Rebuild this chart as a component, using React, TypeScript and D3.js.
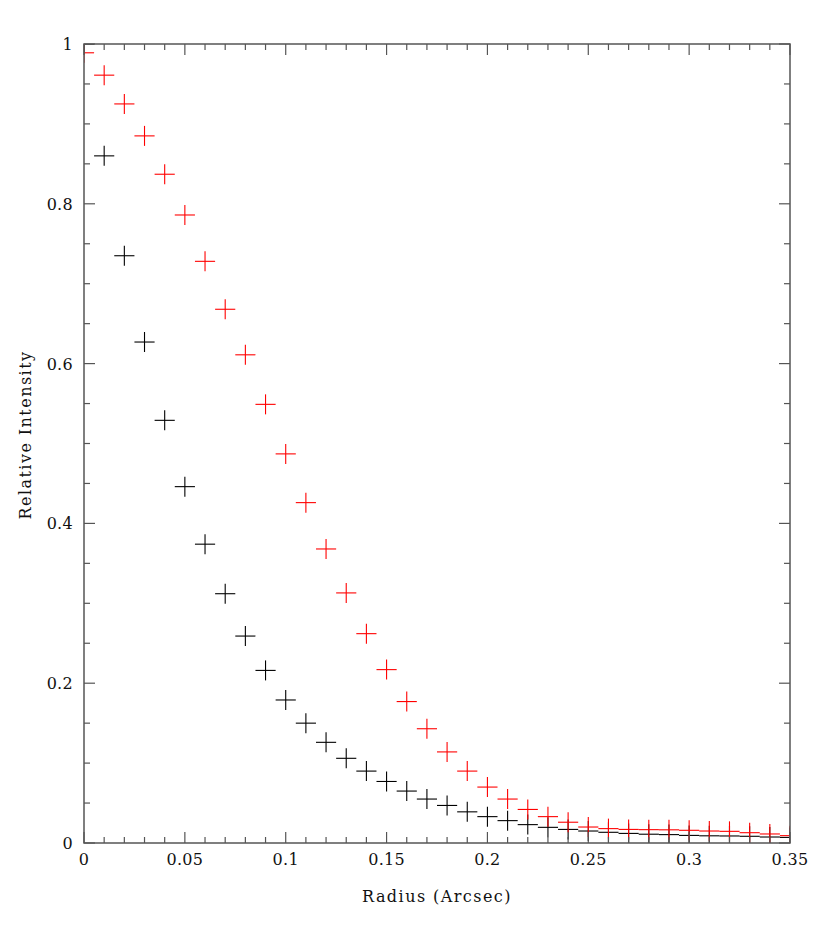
import React from 'react'
import * as d3 from 'd3'

// radius bins (arcsec)
const radius = [0, 0.01, 0.02, 0.03, 0.04, 0.05, 0.06, 0.07, 0.08, 0.09, 0.10, 0.11, 0.12,
    0.13, 0.14, 0.15, 0.16, 0.17, 0.18, 0.19, 0.20, 0.21, 0.22, 0.23, 0.24, 0.25, 0.26, 0.27,
    0.28, 0.29, 0.30, 0.31, 0.32, 0.33, 0.34, 0.35]

// black profile
const blackProfile = [1.0, 0.860, 0.735, 0.627, 0.529, 0.446, 0.374, 0.312, 0.259, 0.216,
    0.179, 0.150, 0.126, 0.106, 0.090, 0.077, 0.065, 0.055, 0.047, 0.039, 0.033, 0.028,
    0.023, 0.0196, 0.017, 0.015, 0.0134, 0.012, 0.011, 0.0105, 0.0095, 0.009, 0.0088,
    0.0084, 0.0075, 0.007]

// red profile
const redProfile = [0.989, 0.961, 0.925, 0.885, 0.837, 0.786, 0.728, 0.668, 0.611, 0.549,
    0.487, 0.426, 0.368, 0.313, 0.262, 0.217, 0.177, 0.143, 0.114, 0.090, 0.070, 0.055,
    0.042, 0.033, 0.026, 0.020, 0.018, 0.017, 0.0167, 0.0165, 0.0159, 0.015, 0.0146,
    0.0129, 0.0113, 0.0092]

const xMajor = [0, 0.05, 0.1, 0.15, 0.2, 0.25, 0.3, 0.35]
const xMajorLabels = ['0', '0.05', '0.1', '0.15', '0.2', '0.25', '0.3', '0.35']
const yMajor = [0, 0.2, 0.4, 0.6, 0.8, 1]
const yMajorLabels = ['0', '0.2', '0.4', '0.6', '0.8', '1']

const W = 830
const H = 938
const left = 84, right = 790, top = 44, bottom = 843
const font = "'DejaVu Serif', 'Liberation Serif', serif"
const axisColor = '#555'
const labelStyle = { fontFamily: font, fontSize: '16px', letterSpacing: '1.45px' }

function App() {
    const x = d3.scaleLinear().domain([0, 0.35]).range([left, right])
    const y = d3.scaleLinear().domain([0, 1]).range([bottom, top])

    const xMinor = d3.range(0, 36).map(i => i / 100)
    const yMinor = d3.range(0, 21).map(i => i / 20)

    const cross = (xs: number[], ys: number[], color: string) =>
        xs.map((r, i) => {
            const cx = x(r), cy = y(ys[i])
            const half = (x(0.005) - x(0))
            return (
                <g key={color + i} stroke={color} strokeWidth={1.1}>
                    <line x1={cx - half} x2={cx + half} y1={cy} y2={cy} />
                    <line x1={cx} x2={cx} y1={cy - 10} y2={cy + 10} />
                </g>
            )
        })

    return (
        <div style={{ position: 'absolute', left: 0, top: 0 }}>
            <svg width={W} height={H} style={{ display: 'block', background: 'white', fontFamily: font }}>
                <defs>
                    <clipPath id="plot">
                        <rect x={left} y={top} width={right - left} height={bottom - top} />
                    </clipPath>
                </defs>
                <g clipPath="url(#plot)">
                    {cross(radius, blackProfile, '#000')}
                    {cross(radius, redProfile, '#ff0000')}
                </g>
                {/* ticks */}
                <g stroke={axisColor} strokeWidth={1.2}>
                    {xMinor.map((v, i) => {
                        const len = i % 5 === 0 ? 11 : 6
                        return (
                            <g key={'xt' + i}>
                                <line x1={x(v)} x2={x(v)} y1={bottom} y2={bottom - len} />
                                <line x1={x(v)} x2={x(v)} y1={top} y2={top + len} />
                            </g>
                        )
                    })}
                    {yMinor.map((v, i) => {
                        const len = i % 4 === 0 ? 11 : 6
                        return (
                            <g key={'yt' + i}>
                                <line x1={left} x2={left + len} y1={y(v)} y2={y(v)} />
                                <line x1={right} x2={right - len} y1={y(v)} y2={y(v)} />
                            </g>
                        )
                    })}
                </g>
                <rect x={left} y={top} width={right - left} height={bottom - top}
                    fill="none" stroke={axisColor} strokeWidth={1.5} />
                {/* tick labels */}
                <g style={{ fontFamily: font, fontSize: '16px', letterSpacing: '0.3px' }} fill="#111">
                    {xMajor.map((v, i) => (
                        <text key={'xl' + i} x={x(v)} y={bottom + 22} textAnchor="middle">{xMajorLabels[i]}</text>
                    ))}
                    {yMajor.map((v, i) => (
                        <text key={'yl' + i} x={left - 11} y={y(v) + 6} textAnchor="end">{yMajorLabels[i]}</text>
                    ))}
                </g>
                <text x={437} y={902} textAnchor="middle" style={labelStyle} fill="#111">
                    Radius (Arcsec)
                </text>
                <text transform="translate(31, 435) rotate(-90)" textAnchor="middle"
                    style={labelStyle} fill="#111">
                    Relative Intensity
                </text>
            </svg>
        </div>
    )
}

export default App
